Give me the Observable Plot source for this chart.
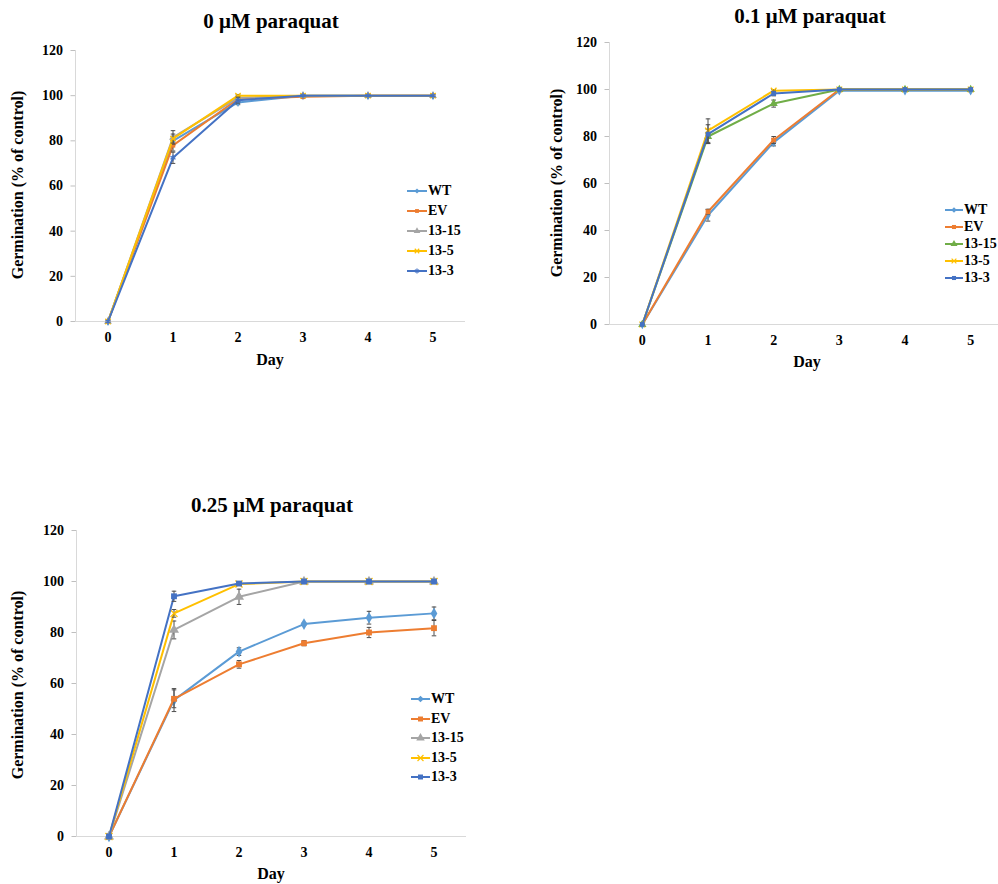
<!DOCTYPE html>
<html><head><meta charset="utf-8">
<script src="https://cdn.jsdelivr.net/npm/d3@7"></script>
<script src="https://cdn.jsdelivr.net/npm/@observablehq/plot@0.6"></script>
<style>
html,body{margin:0;padding:0;background:#fff;overflow:hidden;}
#root{position:relative;width:998px;height:884px;overflow:hidden;font-family:"Liberation Serif","Times New Roman",serif;font-weight:bold;color:#000;}
.abs{position:absolute;}
.title{font-size:21px;text-align:center;width:400px;line-height:20px;white-space:nowrap;}
.ylab{font-size:16px;text-align:center;width:300px;height:20px;line-height:20px;transform:rotate(-90deg);white-space:nowrap;}
.xlab{font-size:16px;text-align:center;width:100px;line-height:20px;}
.leg{font-size:14px;line-height:14px;height:14px;display:flex;align-items:center;white-space:nowrap;}
.leg svg{display:block;overflow:visible;}
</style></head><body><div id="root"></div>
<script>
// ---------- data ----------
const days = [0, 1, 2, 3, 4, 5];
const seriesNames = ["WT", "EV", "13-15", "13-5", "13-3"];
const yTicks = [0, 20, 40, 60, 80, 100, 120];
const panelTitles = ["0 μM paraquat", "0.1 μM paraquat", "0.25 μM paraquat"];
const yAxisLabel = "Germination (% of control)";
const xAxisLabel = "Day";

// 0 μM paraquat
const p0_WT   = [0, 80.0, 97.0, 100, 100, 100];
const p0_EV   = [0, 78.0, 98.5, 99.5, 100, 100];
const p0_1315 = [0, 81.5, 99.0, 100, 100, 100];
const p0_135  = [0, 81.0, 100, 100, 100, 100];
const p0_133  = [0, 72.5, 98.0, 100, 100, 100];
const p0_err_WT   = [0, 2.0, 1.0, 0, 0, 0];
const p0_err_EV   = [0, 2.5, 0.5, 0.5, 0, 0];
const p0_err_1315 = [0, 3.0, 1.0, 0, 0, 0];
const p0_err_135  = [0, 2.0, 0.5, 0, 0, 0];
const p0_err_133  = [0, 2.5, 1.3, 0, 0, 0];

// 0.1 μM paraquat
const p1_WT   = [0, 46.5, 77.5, 99.5, 99.5, 99.5];
const p1_EV   = [0, 48.0, 78.5, 100, 100, 100];
const p1_1315 = [0, 80.0, 94.0, 100, 100, 100];
const p1_135  = [0, 82.5, 99.5, 100, 100, 100];
const p1_133  = [0, 81.0, 98.3, 100, 100, 100];
const p1_err_WT   = [0, 2.5, 1.5, 0, 0, 0];
const p1_err_EV   = [0, 1.0, 1.5, 0, 0, 0];
const p1_err_1315 = [0, 3.0, 1.5, 0, 0, 0];
const p1_err_135  = [0, 5.0, 0.5, 0, 0, 0];
const p1_err_133  = [0, 4.0, 1.0, 0, 0, 0];

// 0.25 μM paraquat
const p2_WT   = [0, 53.5, 72.5, 83.3, 85.8, 87.5];
const p2_EV   = [0, 54.0, 67.5, 75.8, 80.0, 81.7];
const p2_1315 = [0, 81.0, 94.0, 100, 100, 100];
const p2_135  = [0, 87.5, 99.0, 100, 100, 100];
const p2_133  = [0, 94.2, 99.2, 100, 100, 100];
const p2_err_WT   = [0, 4.5, 1.5, 0.5, 2.5, 2.5];
const p2_err_EV   = [0, 3.5, 1.5, 1.0, 2.0, 3.0];
const p2_err_1315 = [0, 3.5, 3.0, 0, 0, 0];
const p2_err_135  = [0, 1.5, 0.5, 0, 0, 0];
const p2_err_133  = [0, 2.0, 0.5, 0, 0, 0];

const colorsGray  = ["#5B9BD5", "#ED7D31", "#A5A5A5", "#FFC000", "#4472C4"];
const colorsGreen = ["#5B9BD5", "#ED7D31", "#70AD47", "#FFC000", "#4472C4"];
const symbolsA = ["diamond", "square", "triangle", "times", "asterisk"];
const symbolsB = ["diamond", "square", "triangle", "times", "square"];
const xDomain = [-0.5, 5.5];
const yDomain = [0, 120];

// ---------- layout ----------
const panels = [
  {title: panelTitles[0], values: [p0_WT, p0_EV, p0_1315, p0_135, p0_133],
   errors: [p0_err_WT, p0_err_EV, p0_err_1315, p0_err_135, p0_err_133],
   colors: colorsGray, symbols: symbolsA, msize: 0.85,
   box: {left: 0, top: 30, width: 480, height: 350, ml: 75, mr: 15, mt: 20, mb: 59},
   titleC: [271, 22], ylabC: [18, 185], xlabC: [270, 361],
   legend: {x: 407, y0: 191, dy: 20, len: 20}},
  {title: panelTitles[1], values: [p1_WT, p1_EV, p1_1315, p1_135, p1_133],
   errors: [p1_err_WT, p1_err_EV, p1_err_1315, p1_err_135, p1_err_133],
   colors: colorsGreen, symbols: symbolsB, msize: 0.9,
   box: {left: 530, top: 20, width: 480, height: 360, ml: 79, mr: 7, mt: 22, mb: 56},
   titleC: [810, 17], ylabC: [557, 183], xlabC: [807, 363],
   legend: {x: 945, y0: 210, dy: 17, len: 18}},
  {title: panelTitles[2], values: [p2_WT, p2_EV, p2_1315, p2_135, p2_133],
   errors: [p2_err_WT, p2_err_EV, p2_err_1315, p2_err_135, p2_err_133],
   colors: colorsGray, symbols: symbolsB, msize: 1.1,
   box: {left: 0, top: 510, width: 480, height: 374, ml: 76, mr: 14, mt: 20, mb: 48},
   titleC: [272, 506], ylabC: [18, 685], xlabC: [271, 875],
   legend: {x: 411, y0: 699, dy: 19.5, len: 19}}
];

const baseR = {diamond: 3.2, square: 3.0, triangle: 3.4, times: 3.0, asterisk: 3.2};
const strokeSymbols = new Set(["times", "asterisk"]);
const d3Sym = {diamond: d3.symbolDiamond2, square: d3.symbolSquare, triangle: d3.symbolTriangle, times: d3.symbolTimes, asterisk: d3.symbolAsterisk};

const root = document.getElementById("root");

function addDiv(cls, text, css) {
  const d = document.createElement("div");
  d.className = "abs " + cls;
  if (text != null) d.textContent = text;
  Object.assign(d.style, css);
  root.appendChild(d);
  return d;
}

panels.forEach(p => {
  const b = p.box;
  const marks = [
    Plot.ruleX([xDomain[0]], {stroke: "#d9d9d9", strokeWidth: 1}),
    Plot.ruleY([yDomain[0]], {stroke: "#d9d9d9", strokeWidth: 1.2}),
    Plot.axisY({ticks: yTicks, tickSize: 4.5, tickPadding: 8, stroke: "#bfbfbf", label: null, tickFormat: d => String(d)}),
    Plot.axisX({ticks: days, tickSize: 0, tickPadding: 11, label: null, tickFormat: d => String(d)})
  ];
  seriesNames.forEach((name, i) => {
    const data = days.map((d, j) => ({day: d, v: p.values[i][j], e: p.errors[i][j]}));
    const err = data.filter(r => r.e > 0);
    const col = p.colors[i];
    const sym = p.symbols[i];
    const r = baseR[sym] * p.msize;
    marks.push(Plot.line(data, {x: "day", y: "v", stroke: col, strokeWidth: 2}));
    marks.push(Plot.ruleX(err, {x: "day", y1: q => q.v - q.e, y2: q => q.v + q.e, stroke: "#4d4d4d", strokeWidth: 1}));
    marks.push(Plot.link(err, {x1: q => q.day - 0.035, x2: q => q.day + 0.035, y1: q => q.v + q.e, y2: q => q.v + q.e, stroke: "#4d4d4d", strokeWidth: 1}));
    marks.push(Plot.link(err, {x1: q => q.day - 0.035, x2: q => q.day + 0.035, y1: q => q.v - q.e, y2: q => q.v - q.e, stroke: "#4d4d4d", strokeWidth: 1}));
    if (strokeSymbols.has(sym)) {
      marks.push(Plot.dot(data, {x: "day", y: "v", symbol: sym, r, stroke: col, strokeWidth: 1.3, fill: "none"}));
    } else {
      marks.push(Plot.dot(data, {x: "day", y: "v", symbol: sym, r, fill: col, stroke: "none"}));
    }
  });
  const chart = Plot.plot({
    width: b.width, height: b.height,
    marginLeft: b.ml, marginRight: b.mr, marginTop: b.mt, marginBottom: b.mb,
    x: {domain: xDomain},
    y: {domain: yDomain},
    style: {fontFamily: '"Liberation Serif","Times New Roman",serif', fontWeight: "bold", fontSize: "14px", color: "#000", background: "transparent", overflow: "visible", maxWidth: "none"},
    marks
  });
  const wrap = addDiv("", null, {left: b.left + "px", top: b.top + "px", width: b.width + "px", height: b.height + "px"});
  wrap.appendChild(chart);

  addDiv("title", p.title, {left: (p.titleC[0] - 200) + "px", top: (p.titleC[1] - 11) + "px"});
  addDiv("ylab", yAxisLabel, {left: (p.ylabC[0] - 150) + "px", top: (p.ylabC[1] - 10) + "px"});
  addDiv("xlab", xAxisLabel, {left: (p.xlabC[0] - 50) + "px", top: (p.xlabC[1] - 11) + "px"});

  // legend
  const L = p.legend;
  seriesNames.forEach((name, i) => {
    const row = addDiv("leg", null, {left: L.x + "px", top: (L.y0 + i * L.dy - 7) + "px"});
    const sym = p.symbols[i];
    const col = p.colors[i];
    const r = baseR[sym] * p.msize * 0.85;
    const svg = d3.create("svg").attr("width", L.len).attr("height", 14);
    svg.append("line").attr("x1", 0).attr("x2", L.len).attr("y1", 7).attr("y2", 7).attr("stroke", col).attr("stroke-width", 2);
    const path = svg.append("path").attr("transform", `translate(${L.len / 2},7)`)
      .attr("d", d3.symbol(d3Sym[sym], Math.PI * r * r)());
    if (strokeSymbols.has(sym)) path.attr("fill", "none").attr("stroke", col).attr("stroke-width", 1.2);
    else path.attr("fill", col);
    row.appendChild(svg.node());
    const t = document.createElement("span");
    t.textContent = name;
    t.style.marginLeft = "1px";
    row.appendChild(t);
  });
});
</script>
</body></html>
